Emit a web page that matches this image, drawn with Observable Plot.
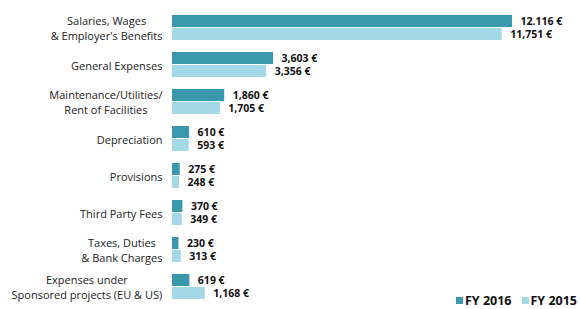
<!DOCTYPE html>
<html>
<head>
<meta charset="utf-8">
<script src="https://cdn.jsdelivr.net/npm/d3@7"></script>
<script src="https://cdn.jsdelivr.net/npm/@observablehq/plot@0.6"></script>
<style>
  body { margin: 0; background: #fff; }
  #wrap { position: relative; width: 580px; height: 309px; font-family: "Open Sans", sans-serif; }
  #legend { position: absolute; right: 3px; bottom: 0px; display: flex; gap: 10px; font-size: 12.5px; font-weight: bold; color: #111; }
  #legend span.item { display: flex; align-items: flex-end; }
  #legend span.sw { display: inline-block; width: 7px; height: 7px; margin-right: 2px; margin-bottom: 5px; }
</style>
</head>
<body>
<div id="wrap"><div id="legend"></div></div>
<script>
const categories = [
  "Salaries, Wages\n& Employer's Benefits",
  "General Expenses",
  "Maintenance/Utilities/\nRent of Facilities",
  "Depreciation",
  "Provisions",
  "Third Party Fees",
  "Taxes, Duties\n& Bank Charges",
  "Expenses under\nSponsored projects (EU & US)"
];
const series = ["FY 2016", "FY 2015"];
const fy2016 = [12116, 3603, 1860, 610, 275, 370, 230, 619];
const fy2015 = [11751, 3356, 1705, 593, 248, 349, 313, 1168];
const labels2016 = ["12.116 €", "3,603 €", "1,860 €", "610 €", "275 €", "370 €", "230 €", "619 €"];
const labels2015 = ["11,751 €", "3,356 €", "1,705 €", "593 €", "248 €", "349 €", "313 €", "1,168 €"];
const colors = ["#3b97ab", "#a5d8e6"];

const rows = [];
categories.forEach((c, i) => {
  rows.push({category: c, series: series[0], value: fy2016[i], label: labels2016[i]});
  rows.push({category: c, series: series[1], value: fy2015[i], label: labels2015[i]});
});

const chart = Plot.plot({
  width: 580,
  height: 309,
  marginLeft: 172,
  marginRight: 68,
  marginTop: 12,
  marginBottom: 7,
  style: {fontFamily: "'Open Sans', sans-serif", fontSize: "10.5px", color: "#222", background: "#fff"},
  facet: {data: rows, y: "category"},
  fy: {domain: categories, paddingInner: 0.33, paddingOuter: 0, axis: null, label: null},
  y: {domain: series, paddingInner: 0.08, paddingOuter: 0, axis: null},
  x: {domain: [0, d3.max(fy2016.concat(fy2015))], axis: null},
  color: {domain: series, range: colors},
  marks: [
    Plot.barX(rows, {x: "value", y: "series", fill: "series"}),
    Plot.text(rows, {x: "value", y: "series", text: "label", dx: 8, textAnchor: "start", fontWeight: "bold", fill: "#111"}),
    Plot.text(rows, Plot.selectFirst({text: "category", frameAnchor: "left", dx: -10, textAnchor: "end", lineHeight: 1.3, fontSize: 11, fill: "#222"}))
  ]
});
document.getElementById("wrap").prepend(chart);

// Center multi-line category labels as a block whose right edge stays at the same place
const flat = new Set(categories.map(c => c.replace("\n", "")));
chart.querySelectorAll("text").forEach(t => {
  if (!flat.has(t.textContent)) return;
  const w = t.getBBox().width;
  t.setAttribute("text-anchor", "middle");
  t.style.textAnchor = "middle";
  t.querySelectorAll("tspan").forEach(ts => { ts.setAttribute("text-anchor", "middle"); ts.style.textAnchor = "middle"; });
  const tr = t.getAttribute("transform") || "";
  t.setAttribute("transform", tr + ` translate(${-w / 2},0)`);
});

const legend = document.getElementById("legend");
series.forEach((s, i) => {
  const item = document.createElement("span");
  item.className = "item";
  const sw = document.createElement("span");
  sw.className = "sw";
  sw.style.background = colors[i];
  item.appendChild(sw);
  item.appendChild(document.createTextNode(s));
  legend.appendChild(item);
});
</script>
</body>
</html>
